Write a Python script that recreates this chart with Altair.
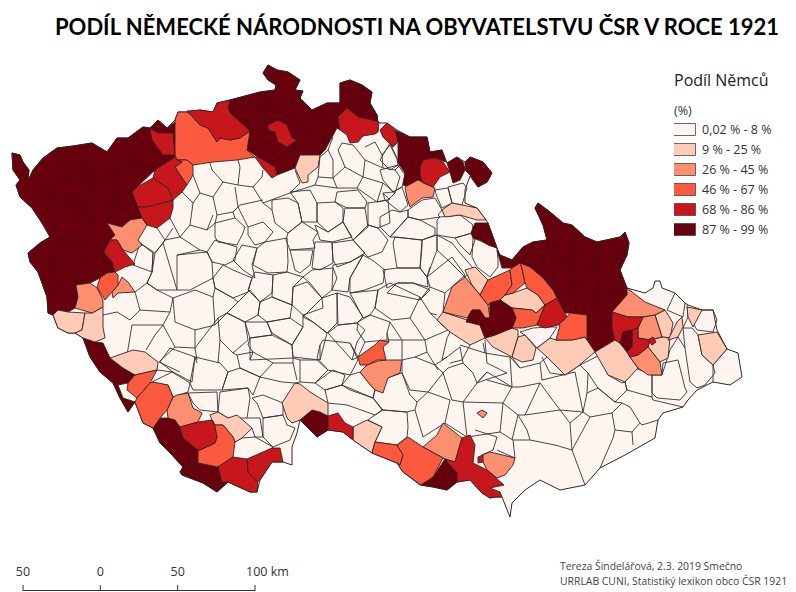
import altair as alt

# ---- labels / classes -------------------------------------------------
TITLE = "PODÍL NĚMECKÉ NÁRODNOSTI NA OBYVATELSTVU ČSR V ROCE 1921"
CLASSES = ["0,02 % - 8 %", "9 % - 25 %", "26 % - 45 %", "46 % - 67 %", "68 % - 86 %", "87 % - 99 %"]
COLORS = ["#fff5f0", "#fdcbb6", "#fc8f6f", "#fb5a3f", "#c8171c", "#67000d"]
CREDITS = ["Tereza Šindelářová, 2.3. 2019 Smečno", "URRLAB CUNI, Statistiký lexikon obco ČSR 1921"]
SCALE_KM = [-50, 0, 50, 100]
SCALE_LABELS = ["50", "0", "50", "100 km"]

# ---- map geometry, in map units ---------------------------------------
COUNTRY = [(12,153),(20,155),(23,162),(29,170),(28,181),(33,170),(43,158),(57,148),(73,146),(92,143),(107,152),(117,138),(128,138),(143,127),(150,128),(158,120),(167,128),(175,120),(178,112),(188,112),(200,110),(213,112),(217,103),(230,100),(260,92),(275,90),(276,85),(268,80),(263,73),(268,65),(277,70),(288,72),(300,80),(295,90),(303,91),(300,98),(312,110),(327,103),(340,103),(340,83),(350,80),(362,85),(372,92),(370,103),(377,115),(378,123),(387,123),(397,130),(410,137),(427,137),(430,152),(442,150),(447,163),(457,157),(465,162),(470,157),(483,162),(492,173),(487,182),(478,187),(470,176),(465,190),(465,203),(477,208),(486,220),(488,223),(497,248),(500,255),(512,260),(523,247),(533,242),(547,240),(543,225),(535,208),(538,203),(550,212),(563,223),(572,225),(585,237),(597,242),(620,237),(625,232),(629,243),(627,255),(620,270),(627,288),(645,293),(653,288),(655,281),(660,281),(662,288),(675,293),(685,303),(688,305),(702,310),(713,310),(717,330),(727,349),(738,353),(742,377),(730,385),(713,382),(697,390),(688,400),(683,407),(663,413),(658,420),(655,438),(625,455),(600,468),(585,485),(560,490),(540,480),(525,490),(512,503),(510,517),(502,497),(495,497),(490,498),(482,493),(470,480),(457,482),(447,490),(433,487),(420,485),(403,472),(397,463),(372,453),(353,440),(343,432),(328,430),(317,437),(300,420),(297,433),(292,447),(292,465),(283,462),(272,462),(260,480),(257,492),(250,492),(228,482),(217,492),(203,483),(182,475),(180,472),(183,467),(172,455),(160,443),(153,428),(143,423),(135,402),(128,412),(120,398),(113,383),(100,372),(90,357),(83,338),(75,333),(68,333),(58,328),(53,315),(48,313),(47,297),(42,283),(38,272),(30,262),(28,253),(40,243),(50,237),(42,223),(32,208),(20,197),(16,185),(20,180),(13,170)]

PALE = [
 [(295,168),(300,155),(320,155),(318,167),(308,175),(308,182),(302,183)],
 [(53,315),(58,310),(68,312),(85,313),(82,330),(75,333),(68,333),(58,328)],
 [(85,313),(92,313),(103,307),(103,327),(105,338),(95,342),(83,338),(75,333),(82,330)],
 [(110,358),(133,350),(145,352),(158,362),(157,370),(135,375),(123,368)],
 [(210,415),(218,412),(228,418),(237,415),(252,428),(242,438),(235,442),(233,437),(223,425),(215,425),(212,420)],
 [(282,403),(295,383),(300,384),(310,392),(328,403),(328,416),(320,412),(312,410),(300,420),(292,423),(287,418)],
 [(353,427),(367,420),(382,427),(375,442),(372,453),(353,440)],
 [(442,210),(452,203),(477,208),(486,220),(477,220),(460,215),(445,217)],
 [(500,300),(505,295),(513,293),(527,288),(538,295),(545,305),(536,313),(532,310),(512,308)],
 [(465,270),(475,267),(488,280),(480,295),(472,285)],
 [(437,320),(443,312),(467,320),(472,323),(480,325),(485,338),(470,345),(450,332)],
 [(485,338),(495,335),(512,328),(518,330),(518,337),(512,357),(493,347)],
 [(512,357),(518,337),(525,335),(536,348),(533,360),(522,362)],
 [(537,348),(550,338),(556,340),(572,340),(585,337),(587,340),(595,352),(577,367),(565,375),(553,363),(547,357)],
 [(595,352),(615,340),(620,343),(627,352),(630,357),(638,368),(625,382),(608,375)],
 [(655,315),(665,310),(673,323),(670,338),(662,337)],
 [(648,347),(650,340),(662,337),(670,338),(668,358),(660,362)],
 [(668,340),(677,322),(682,317),(683,327),(678,337)],
 [(688,317),(687,307),(702,310),(693,327)],
 [(698,335),(717,332),(727,349),(713,365),(702,355)],
]
SALMON = [
 [(107,223),(122,227),(130,220),(142,218),(147,225),(138,240),(142,245),(132,253),(123,250),(117,240),(110,240),(115,235)],
 [(118,285),(122,277),(128,282),(135,292),(118,293),(113,298),(112,292)],
 [(76,285),(90,283),(97,288),(103,300),(103,307),(92,313),(75,308),(78,297)],
 [(167,410),(173,397),(177,395),(188,393),(193,408),(202,413),(198,422),(180,427),(175,420),(168,418)],
 [(423,447),(437,435),(443,423),(462,438),(455,462),(445,459),(443,458)],
 [(482,455),(490,452),(515,458),(513,465),(505,475),(497,478),(487,470),(483,462)],
 [(477,413),(482,410),(487,413),(483,418)],
 [(360,372),(367,365),(378,361),(386,360),(402,360),(400,373),(388,378),(383,393),(375,390),(368,382)],
 [(405,187),(418,180),(435,188),(433,197),(422,198),(410,207),(407,198)],
 [(443,312),(452,287),(465,277),(480,295),(488,305),(490,318),(485,318),(480,310),(472,310),(467,318)],
 [(612,312),(627,295),(627,288),(645,302),(665,310),(655,315),(643,317),(640,317),(628,317)],
 [(638,328),(643,317),(655,315),(662,337),(650,340),(638,338)],
 [(630,357),(638,355),(648,347),(660,362),(662,375),(648,375),(638,368)],
]
ORANGE = [
 [(175,120),(178,112),(187,112),(192,116),(200,125),(208,128),(217,142),(220,138),(230,140),(240,138),(250,131),(247,150),(255,157),(237,160),(213,162),(193,165),(187,160),(177,160),(175,155)],
 [(177,160),(187,160),(193,165),(193,175),(187,185),(182,178),(175,167),(182,162)],
 [(97,287),(100,278),(107,273),(115,272),(118,275),(118,285),(112,292),(105,300),(100,292)],
 [(135,375),(157,370),(150,383),(137,398),(127,390),(128,383)],
 [(135,402),(137,398),(150,383),(153,382),(168,385),(173,397),(167,410),(160,418),(153,428),(143,423)],
 [(212,420),(215,425),(223,425),(233,437),(235,442),(233,457),(218,467),(198,463),(198,450),(200,450),(215,443),(217,437),(215,427)],
 [(372,453),(375,442),(397,445),(403,455),(400,465),(397,463)],
 [(397,445),(408,437),(423,447),(443,458),(433,477),(421,485),(403,472),(397,463),(400,465),(403,455)],
 [(358,357),(375,345),(380,340),(389,342),(383,347),(386,360),(377,360),(367,365),(360,365)],
 [(480,295),(488,280),(510,270),(512,285),(505,295),(500,300),(490,303),(488,305)],
 [(510,270),(512,268),(520,263),(522,268),(525,283),(513,293),(505,295),(512,285)],
 [(520,263),(530,267),(543,278),(553,290),(557,298),(545,305),(538,295),(527,288),(525,283),(522,268)],
 [(512,308),(532,310),(536,313),(545,305),(537,325),(523,328),(512,328),(516,318)],
 [(556,340),(560,325),(558,325),(567,317),(570,313),(587,315),(587,327),(587,340),(585,337),(572,340)],
]
RED = [
 [(150,128),(158,133),(173,133),(175,155),(163,155),(152,140)],
 [(104,252),(110,240),(117,240),(123,250),(135,264),(125,267),(115,272),(112,262)],
 [(268,125),(278,120),(287,125),(292,138),(297,140),(287,147),(278,142),(275,132),(268,130)],
 [(255,157),(258,157),(275,167),(277,175),(272,178),(263,168)],
 [(338,117),(347,108),(358,117),(372,120),(379,122),(378,132),(375,134),(363,136),(358,142),(350,143),(347,135),(340,130)],
 [(187,111),(200,110),(213,112),(217,103),(230,100),(228,108),(230,113),(250,131),(240,138),(230,140),(220,138),(217,142),(208,128),(200,125),(192,116)],
 [(155,170),(175,157),(177,160),(182,162),(175,167),(182,178),(187,185),(182,192),(173,200),(168,188),(163,185),(153,178)],
 [(132,192),(137,187),(153,178),(163,185),(168,188),(173,200),(168,202),(162,203),(147,207),(138,207)],
 [(138,207),(147,207),(162,203),(168,202),(173,200),(173,208),(170,218),(157,228),(147,225),(142,218)],
 [(180,427),(198,422),(212,420),(215,427),(217,437),(215,443),(200,450),(198,450),(183,438)],
 [(218,467),(233,457),(247,459),(248,472),(258,482),(257,492),(250,492),(228,482),(222,482)],
 [(247,459),(272,448),(280,448),(283,462),(272,462),(260,480),(257,482),(248,472)],
 [(328,416),(338,413),(345,423),(353,427),(353,440),(343,432),(328,430),(328,422)],
 [(455,462),(462,438),(470,435),(475,445),(473,463),(487,470),(504,485),(490,488),(500,492),(502,497),(495,497),(490,498),(482,493),(470,480),(457,482),(457,473),(445,459)],
 [(478,457),(483,455),(483,462),(478,463)],
 [(380,130),(387,123),(395,130),(398,142),(393,147),(383,137)],
 [(420,167),(423,160),(435,158),(443,162),(450,172),(440,177),(433,187),(423,183),(420,175)],
 [(537,325),(545,305),(557,298),(565,313),(567,317),(558,325),(545,328)],
 [(612,312),(628,317),(640,317),(643,317),(638,328),(632,330),(623,332),(620,343),(615,340),(612,327)],
 [(632,330),(638,328),(638,338),(650,340),(648,347),(638,355),(630,357),(627,352),(632,347)],
 [(648,340),(653,337),(656,342),(652,345)],
]
DARK = [
 [(48,313),(47,297),(42,283),(38,272),(30,262),(28,253),(40,243),(50,237),(42,223),(32,208),(20,197),(16,185),(20,180),(13,170),(12,153),(20,155),(23,162),(29,170),(28,181),(33,170),(43,158),(57,148),(73,146),(92,143),(107,152),(117,138),(128,138),(143,127),(150,128),(158,120),(167,128),(175,122),(175,157),(155,170),(137,187),(132,192),(138,207),(142,218),(130,220),(122,227),(107,223),(115,235),(110,240),(104,252),(112,262),(115,272),(107,273),(100,278),(90,283),(76,285),(78,297),(75,308),(68,312),(58,310),(53,315)],
 [(230,100),(260,92),(275,90),(276,85),(268,80),(263,73),(268,65),(277,70),(288,72),(300,80),(295,90),(303,91),(300,98),(312,110),(327,103),(340,103),(340,83),(350,80),(362,85),(372,92),(370,103),(377,115),(378,123),(370,120),(358,117),(347,108),(338,117),(340,130),(337,128),(325,150),(320,155),(300,155),(295,168),(277,175),(275,167),(258,157),(247,150),(250,131),(230,113),(228,108)],
 [(83,338),(95,342),(103,343),(110,358),(123,368),(135,375),(128,383),(118,385),(123,398),(135,402),(128,412),(120,398),(113,383),(100,372),(90,357)],
 [(153,428),(160,418),(168,418),(175,420),(180,427),(183,438),(198,450),(198,463),(192,467),(183,467),(172,455),(160,443)],
 [(182,475),(180,472),(183,467),(192,467),(198,463),(218,467),(222,482),(228,482),(217,492),(203,483)],
 [(300,420),(312,410),(320,412),(328,416),(328,430),(317,437)],
 [(421,485),(422,477),(433,477),(445,459),(457,473),(457,482),(447,490),(433,487)],
 [(395,130),(410,137),(427,137),(430,152),(442,150),(446,162),(435,158),(423,160),(420,175),(423,183),(410,187),(403,185),(405,173),(398,163),(398,142)],
 [(447,163),(457,157),(463,162),(465,170),(460,180),(453,183),(450,172)],
 [(465,162),(470,157),(483,162),(492,173),(487,182),(478,187),(470,175),(465,170)],
 [(471,233),(475,223),(488,223),(497,248),(488,245),(480,240),(473,238)],
 [(497,250),(500,255),(512,260),(523,247),(533,242),(547,240),(543,225),(535,208),(538,203),(550,212),(563,223),(572,225),(585,237),(597,242),(620,237),(625,232),(629,243),(627,255),(620,270),(627,288),(627,295),(612,312),(612,327),(615,340),(595,352),(587,340),(587,327),(587,315),(570,313),(565,313),(557,298),(553,290),(543,278),(530,267),(520,263),(512,268),(502,268)],
 [(466,322),(472,310),(480,310),(485,318),(490,318),(490,303),(500,300),(512,308),(516,318),(512,328),(495,335),(485,338),(480,325),(472,323)],
 [(620,343),(623,332),(632,330),(632,347),(627,352)],
]
# faint boundaries inside the darkest areas
DARK_LINES = [
 [(57,148),(62,175),(50,195),(60,215),(50,237)],[(92,143),(85,165),(95,185),(85,205),(90,225),(75,240),(80,265),(76,285)],
 [(50,195),(85,205),(115,195),(132,192)],[(62,175),(95,185),(120,165),(155,170)],[(128,138),(120,165),(115,195),(110,215),(107,223)],
 [(50,237),(75,240),(104,252)],[(40,265),(80,265)],[(48,290),(76,285)],
 [(265,92),(262,120),(250,132)],[(300,98),(290,118),(300,130),(297,155)],[(312,110),(325,125),(325,150)],[(268,125),(262,120),(290,118)],
 [(350,85),(352,108)],[(362,85),(362,115)],
 [(547,240),(555,265),(553,290)],[(572,225),(575,255),(570,280),(587,315)],[(597,242),(595,270),(600,295),(587,315)],[(555,265),(575,255),(595,270),(627,255)],[(570,280),(600,295),(627,295)],[(533,242),(530,267)],
]
DISTRICT_CELLS = [
 [(272,200),(288,198),(298,203),(302,222),(288,233),(275,223),(272,210)],
 [(302,222),(318,232),(313,240),(315,248),(290,250),(286,240),(288,233)],
 [(317,203),(335,202),(343,208),(343,222),(328,232),(317,222)],
 [(290,192),(310,190),(317,203),(317,222),(302,222),(298,203)],
 [(328,232),(343,222),(352,237),(332,242),(320,240),(315,225)],
 [(335,202),(337,192),(358,190),(367,202),(365,208),(347,208)],
 [(345,208),(365,208),(368,227),(353,240),(343,222)],
 [(368,203),(388,200),(390,223),(378,228),(368,225)],
 [(353,240),(368,225),(378,228),(388,240),(382,252),(368,257),(360,248)],
 [(215,223),(235,218),(245,227),(243,233),(237,245),(218,242),(215,237)],
 [(248,227),(263,222),(273,232),(265,242),(255,245),(248,235)],
 [(207,252),(215,240),(237,247),(235,260),(225,265),(212,262)],
 [(257,248),(265,242),(287,238),(288,262),(287,272),(268,273),(253,265)],
 [(233,260),(242,245),(257,248),(252,265),(255,278),(243,270)],
 [(290,250),(313,250),(310,265),(300,273),(295,270)],
 [(315,242),(332,242),(333,263),(320,270),(312,268)],
 [(332,243),(353,240),(365,253),(350,262),(337,267),(333,260)],
 [(213,278),(223,265),(233,270),(252,278),(248,292),(233,298),(215,288)],
 [(252,278),(255,272),(273,275),(272,293),(260,302),(248,290)],
 [(273,275),(287,272),(303,277),(293,287),(292,305),(272,297)],
 [(303,277),(312,270),(333,268),(337,278),(332,290),(322,298),(310,283)],
 [(333,265),(350,262),(363,255),(350,278),(348,292),(332,290)],
 [(363,255),(372,260),(385,270),(383,283),(365,290),(350,293),(350,278)],
 [(293,287),(307,282),(322,298),(323,308),(303,315),(292,305)],
 [(322,298),(337,293),(337,323),(327,333),(313,322),(303,317)],
 [(337,293),(350,297),(363,317),(357,323),(338,325)],
 [(350,293),(378,290),(375,308),(370,315),(363,318)],
 [(378,290),(390,283),(420,297),(410,318),(392,320),(375,308)],
 [(227,313),(238,302),(250,290),(260,302),(258,315),(245,322)],
 [(260,302),(272,297),(292,305),(290,318),(267,322),(258,315)],
 [(218,318),(227,313),(245,322),(248,340),(233,353),(220,340)],
 [(245,322),(267,322),(272,335),(250,338)],
 [(267,322),(290,318),(303,327),(292,345),(272,333)],
 [(303,315),(313,322),(327,333),(320,360),(293,357),(292,345),(303,327)],
 [(250,338),(272,335),(292,345),(293,358),(250,360)],
 [(328,333),(338,325),(357,323),(365,330),(357,342),(352,360)],
 [(358,322),(370,315),(390,322),(387,333),(387,340),(365,342),(357,330)],
 [(160,362),(170,348),(195,357),(192,382),(173,372)],
 [(152,382),(172,372),(190,383),(188,392),(173,397),(168,385),(153,383)],
 [(195,357),(220,363),(228,372),(222,390),(193,390),(190,383)],
 [(188,393),(217,392),(218,412),(200,410),(193,403)],
 [(220,392),(248,388),(250,398),(247,418),(228,418),(218,412)],
 [(228,372),(240,368),(260,377),(253,395),(248,388),(222,390)],
 [(252,398),(263,395),(283,403),(283,415),(263,418),(257,403)],
 [(263,418),(283,415),(287,425),(295,428),(290,440),(273,447),(263,437)],
 [(237,355),(253,352),(273,363),(260,377),(240,368)],
 [(320,345),(323,340),(350,343),(358,360),(350,375),(328,370),(317,358)],
 [(300,360),(317,360),(328,370),(315,383),(300,382)],
 [(315,383),(333,370),(345,375),(342,385),(325,390)],
 [(350,375),(360,372),(368,382),(375,390),(373,398),(350,390),(342,385)],
 [(325,390),(342,385),(373,398),(382,410),(375,415),(347,405),(328,403)],
 [(375,415),(383,410),(407,412),(408,427),(407,437),(397,445),(375,442),(382,427),(368,420)],
 [(383,410),(373,398),(375,390),(387,378),(402,373),(410,395),(417,402),(415,410),(407,412)],
 [(402,360),(415,357),(435,365),(443,373),(428,392),(410,390),(402,373)],
 [(443,373),(448,368),(463,363),(473,373),(477,383),(463,402),(452,400)],
 [(580,365),(600,355),(608,375),(622,383),(625,382),(627,390),(615,402),(598,388),(588,373)],
 [(625,382),(635,368),(652,375),(652,397),(627,390)],
 [(652,375),(662,375),(663,363),(678,360),(685,388),(687,392),(680,400),(657,398),(652,393)],
 [(683,328),(692,328),(698,335),(702,355),(713,365),(715,373),(705,385),(697,388),(690,382),(685,348)],
 [(688,315),(697,330),(713,332),(717,320),(713,310),(702,310)],
 [(587,393),(583,412),(590,417),(612,413),(622,403),(615,402),(598,388)],
 [(390,143),(397,158),(398,165),(390,170),(380,160)],
 [(398,165),(405,175),(402,187),(393,192),(383,180),(380,170)],
 [(383,193),(393,192),(402,187),(408,205),(400,212),(385,200)],
 [(380,217),(392,210),(400,212),(408,210),(408,217),(390,237),(380,227)],
 [(408,210),(422,200),(435,198),(442,210),(438,215),(440,217),(420,220),(408,217)],
 [(435,190),(437,197),(442,208),(452,203),(448,188)],
 [(448,187),(463,183),(467,188),(462,205),(452,203)],
 [(390,237),(408,217),(420,220),(435,228),(435,235),(422,240),(395,237)],
 [(440,217),(460,215),(473,225),(472,233),(455,238),(437,235),(437,220)],
 [(455,238),(472,233),(475,240),(470,255),(460,245)],
 [(473,238),(483,242),(497,248),(498,260),(498,267),(490,277),(477,267),(472,257)],
 [(437,235),(452,243),(460,253),(473,268),(465,277),(450,262),(437,250)],
 [(422,240),(437,235),(437,250),(427,277),(420,268),(422,247)],
 [(395,237),(422,240),(420,268),(397,268),(393,243)],
 [(383,270),(397,268),(420,268),(427,277),(428,287),(413,283),(397,283),(387,288)],
 [(427,277),(452,257),(465,275),(445,293),(430,287)],
 [(387,293),(397,283),(413,283),(430,290),(420,300)],
 [(520,332),(533,328),(548,327),(557,327),(550,338),(537,348),(525,335)],
 [(173,298),(195,290),(213,297),(215,325),(195,330),(175,322)],
 [(140,243),(153,253),(152,272),(133,265)],
 [(155,253),(163,243),(177,290),(157,290),(147,283),(152,272)],
 [(177,255),(207,252),(212,262),(213,278),(190,290),(177,290)],
]
DISTRICT_LINES = [
 [(210,163),(212,170),(223,182),(238,185),(240,167),(238,160)],
 [(238,185),(253,187),(262,177),(263,170)],
 [(223,182),(213,197),(217,215),(233,212),(238,207),(235,187)],
 [(200,193),(213,197)],[(253,187),(263,203),(290,193),(300,183),(295,170)],
 [(290,193),(315,185),(318,177),(320,157)],[(318,177),(333,178),(337,188),(315,185)],
 [(320,157),(328,150),(333,160),(333,178)],[(328,150),(333,137)],
 [(333,178),(345,167),(338,150),(342,143)],[(345,167),(363,177),(365,160),(353,145),(342,143)],
 [(337,188),(357,188),(363,177)],[(357,188),(377,202),(383,183),(363,177)],
 [(365,160),(383,168),(382,155),(375,142),(365,147)],[(383,168),(395,170),(400,165),(390,145),(382,155)],
 [(383,183),(395,193),(400,177),(395,170)],[(377,202),(388,200),(395,193)],[(383,193),(390,200)],
 [(263,203),(272,210)],[(233,212),(240,205),(263,200)],[(238,207),(248,227)],[(217,215),(215,223)],[(235,218),(233,212)],
 [(140,243),(155,253),(163,243),(173,228)],[(153,253),(152,272),(147,283),(157,290),(173,298),(170,312)],
 [(135,292),(147,283)],[(133,265),(135,264)],[(135,292),(140,310),(130,320),(117,312),(103,315)],
 [(140,310),(170,312),(163,325),(132,325),(127,355),(115,357)],[(163,325),(155,335),(146,350)],
 [(163,325),(175,347),(195,348)],[(175,347),(159,362)],[(159,362),(180,372)],
 [(157,370),(173,372)],[(195,330),(195,348),(218,318)],[(195,348),(197,360)],
 [(182,192),(193,203),(190,225),(180,237),(170,218)],[(193,175),(200,193),(193,203)],[(190,225),(207,230),(213,215)],
 [(180,237),(200,250),(207,252)],[(157,228),(165,240),(180,237)],[(163,243),(165,240)],[(207,230),(215,223)],
 [(200,250),(177,255)],[(213,278),(215,288),(213,297)],[(215,325),(227,313)],[(215,288),(233,298),(238,302)],
 [(220,340),(218,363)],[(233,353),(237,355)],[(250,338),(248,345),(253,352)],[(250,360),(253,352)],
 [(273,363),(293,363),(297,380)],[(260,377),(282,382),(295,383)],[(293,358),(293,363)],
 [(320,345),(320,360)],[(350,343),(358,357)],[(300,382),(295,383)],[(300,360),(293,358)],
 [(195,357),(197,363)],[(235,442),(242,438),(255,437),(273,447),(272,448)],[(247,418),(260,418),(263,437),(255,437),(252,428)],
 [(352,360),(358,357)],[(365,342),(358,357)],[(389,342),(387,333)],[(390,322),(402,340),(402,360)],
 [(387,340),(402,340),(425,340),(427,352),(415,357)],[(410,318),(425,340),(448,330),(437,320)],[(427,352),(438,370)],
 [(420,297),(430,313),(437,315)],[(430,287),(420,300),(420,297)],[(445,293),(443,312)],[(430,267),(427,277)],
 [(435,365),(447,357),(460,347),(463,363)],[(460,345),(485,353),(483,343)],[(485,353),(510,357),(512,387),(487,372),(477,383)],
 [(430,313),(450,332),(447,338),(442,360),(447,357)],[(470,345),(462,360),(450,363)],[(485,340),(487,363),(507,373),(485,380),(477,383)],
 [(510,357),(520,368),(540,363),(542,380)],[(512,357),(520,368)],[(542,357),(550,373),(565,375)],[(540,363),(547,357)],
 [(450,400),(445,423),(423,437),(415,410)],[(417,402),(428,392),(450,400)],[(463,402),(467,437),(445,423)],
 [(463,402),(503,403),(500,432),(467,437)],[(477,383),(487,372)],[(487,380),(512,387),(503,403)],
 [(475,430),(497,437),(493,450),(482,455)],[(500,432),(513,440),(515,458),(497,450)],[(503,403),(518,415),(527,430),(530,440),(513,440)],
 [(512,387),(520,387),(540,383),(525,415),(518,415)],[(525,415),(560,410),(570,423),(572,450)],
 [(542,380),(575,372),(583,412)],[(560,410),(583,412)],[(572,450),(590,417)],[(530,440),(555,445),(572,450),(585,485)],
 [(565,375),(580,365)],[(587,357),(580,365)],[(588,373),(587,393)],[(570,423),(583,412)],[(540,383),(560,410)],[(518,415),(512,440)],
 [(612,413),(615,430),(613,438),(600,468)],[(622,403),(630,407),(640,423),(642,425),(658,420)],[(640,423),(632,432),(615,430)],[(632,432),(633,445)],
 [(652,397),(653,400),(683,407)],[(670,350),(678,337),(685,348)],[(662,375),(670,350)],
 [(675,293),(667,310),(683,317)],[(685,303),(683,317)],[(687,305),(688,317)],
 [(713,365),(713,382)],[(713,365),(727,349)],[(683,328),(688,317)],
 [(563,340),(556,340)],[(622,347),(630,357)],
]

# ---- build GeoJSON features -------------------------------------------
def poly(points, cls):
    ring = [list(p) for p in points] + [list(points[0])]
    return {"type": "Feature", "geometry": {"type": "Polygon", "coordinates": [ring]},
            "properties": {"cls": cls}}

def line(points, closed=False):
    coords = [list(p) for p in points] + ([list(points[0])] if closed else [])
    return {"type": "Feature", "geometry": {"type": "LineString", "coordinates": coords}, "properties": {}}

areas = []
for group, idx in [(DARK, 5), (PALE, 1), (SALMON, 2), (ORANGE, 3), (RED, 4)]:
    areas += [poly(p, CLASSES[idx]) for p in group]
# small dark islands sit on top of their neighbours
areas += [poly(DARK[-1], CLASSES[5]), poly(DARK[-2], CLASSES[5])]
network = [line(c, True) for c in DISTRICT_CELLS] + [line(l) for l in DISTRICT_LINES]
dark_net = [line(l) for l in DARK_LINES]

PROJ = dict(type="identity", scale=1, translate=[-8, -8])
color_scale = alt.Scale(domain=CLASSES, range=COLORS)

country_layer = alt.Chart(alt.Data(values=[poly(COUNTRY, CLASSES[0])])).mark_geoshape(
    stroke="#2b2b2b", strokeWidth=1).encode(
    color=alt.Color("properties.cls:N", scale=color_scale,
        legend=alt.Legend(
            title="Podíl Němců", orient="none", legendX=666, legendY=65,
            titleFont="Open Sans", titleFontSize=16, titleFontWeight="normal", titleColor="#222",
            titlePadding=33, labelFont="Open Sans", labelFontSize=12.5, labelColor="#333",
            symbolType="M-1.17,-1H2.5V1H-1.17Z", symbolSize=144, symbolStrokeColor="#444",
            symbolStrokeWidth=0.8, symbolOpacity=1,
            rowPadding=5.0, labelOffset=15, clipHeight=15, padding=0))
).project(**PROJ)

net_layer = alt.Chart(alt.Data(values=network)).mark_geoshape(
    filled=False, stroke="#333333", strokeWidth=0.9).project(**PROJ)

area_layer = alt.Chart(alt.Data(values=areas)).mark_geoshape(
    stroke="#3a2020", strokeWidth=0.9).encode(
    color=alt.Color("properties.cls:N", scale=color_scale, legend=None)
).project(**PROJ)

dark_layer = alt.Chart(alt.Data(values=dark_net)).mark_geoshape(
    filled=False, stroke="#3f0d12", strokeWidth=0.7).project(**PROJ)

def note(text, x, y, size, font="Open Sans", weight="normal", color="#333"):
    return alt.Chart(alt.Data(values=[{"t": text}])).mark_text(
        font=font, fontSize=size, fontWeight=weight, color=color, align="left", baseline="middle"
    ).encode(text="t:N", x=alt.value(x - 8), y=alt.value(y - 8))

title_layer = note(TITLE, 55, 28, 22.0, font="Lato", weight="bold", color="#000")
unit_layer = note("(%)", 674, 111, 12.5)
credit_layers = [note(CREDITS[0], 560, 567, 10.4, color="#444"), note(CREDITS[1], 560, 582, 10.4, color="#444")]

sx = alt.Scale(domain=[-50, 100], range=[15, 247])
bar = alt.Chart(alt.Data(values=[{"a": SCALE_KM[0], "b": SCALE_KM[-1]}])).mark_rule(color="#333", strokeWidth=1).encode(
    x=alt.X("a:Q", scale=sx, axis=None), x2="b:Q", y=alt.value(582.5))
ticks = alt.Chart(alt.Data(values=[{"km": k} for k in SCALE_KM])).mark_rule(color="#333", strokeWidth=1).encode(
    x=alt.X("km:Q", scale=sx, axis=None), y=alt.value(577), y2=alt.value(583))
labels = alt.Chart(alt.Data(values=[{"km": k, "t": t} for k, t in zip(SCALE_KM[:3], SCALE_LABELS[:3])])).mark_text(
    font="Open Sans", fontSize=12.5, color="#333", baseline="middle").encode(
    x=alt.X("km:Q", scale=sx, axis=None), text="t:N", y=alt.value(564))
label_last = alt.Chart(alt.Data(values=[{"km": SCALE_KM[3], "t": SCALE_LABELS[3]}])).mark_text(
    font="Open Sans", fontSize=12.5, color="#333", baseline="middle", align="left", dx=-9).encode(
    x=alt.X("km:Q", scale=sx, axis=None), text="t:N", y=alt.value(564))

chart = alt.layer(
    country_layer, net_layer, area_layer, dark_layer,
    title_layer, unit_layer, *credit_layers, bar, ticks, labels, label_last
).properties(width=780, height=584, padding=0, autosize=alt.AutoSizeParams(type="none"), background="#ffffff"
).configure_view(stroke=None)

chart.save("out.html", embed_options={"renderer": "svg", "actions": False})
